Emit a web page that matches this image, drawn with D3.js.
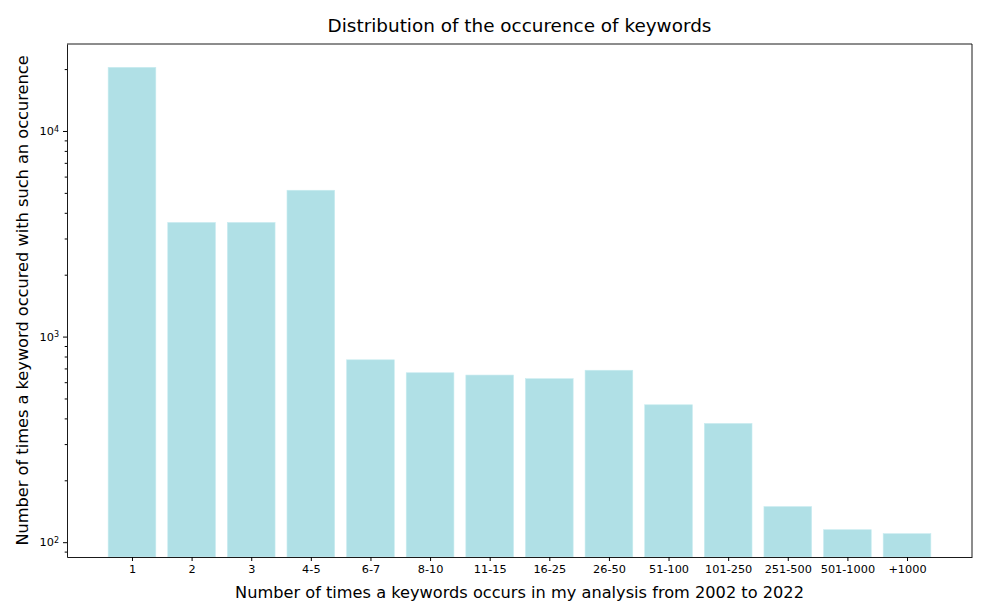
<!DOCTYPE html>
<meta charset="utf-8">
<style>
    body { margin: 0; background: #fff; }
    text { font-family: "DejaVu Sans", sans-serif; fill: #000; }
    .bar { fill: #b0e0e6; stroke: #c8ecf0; stroke-width: 0.6px; }
    .domain { stroke: #000; stroke-width: 0.9px; }
</style>
<svg width="988" height="608"></svg>
<script src="https://cdn.jsdelivr.net/npm/d3@7/dist/d3.min.js"></script>
<script>
    // bins of occurrences and how many keywords fall in each bin
    var categories = ['1', '2', '3', '4-5', '6-7', '8-10', '11-15', '16-25', '26-50',
        '51-100', '101-250', '251-500', '501-1000', '+1000'];
    var counts = [20400, 3590, 3590, 5150, 771, 667, 650, 624, 686, 466, 378, 149, 115, 110];
    var decadeTicks = [100, 1000, 10000];

    var svgElem = d3.select('svg');
    var margin = { left: 67, top: 44, right: 16, bottom: 51 };
    var width = +svgElem.attr('width') - margin.left - margin.right;
    var height = +svgElem.attr('height') - margin.top - margin.bottom;
    var g = svgElem.append('g')
        .attr('transform', `translate(${margin.left}, ${margin.top})`);

    // matplotlib-like limits: bars are 0.8 wide, 5% margins
    var lo = -0.4, hi = categories.length - 1 + 0.4;
    var pad = (hi - lo) * 0.05;
    var x = d3.scaleLinear().domain([lo - pad, hi + pad]).range([0, width]);

    var lmin = Math.log10(d3.min(counts)), lmax = Math.log10(d3.max(counts));
    var lpad = (lmax - lmin) * 0.05;
    var y = d3.scaleLog()
        .domain([Math.pow(10, lmin - lpad), Math.pow(10, lmax + lpad)])
        .range([height, 0]);

    // bars
    g.selectAll('.bar')
        .data(counts)
        .enter()
        .append('rect')
        .attr('class', 'bar')
        .attr('x', function (d, i) { return x(i - 0.4); })
        .attr('width', function () { return x(0.8) - x(0); })
        .attr('y', function (d) { return y(d); })
        .attr('height', function (d) { return height - y(d); });

    // x axis
    var xAxis = d3.axisBottom(x)
        .tickValues(d3.range(categories.length))
        .tickFormat(function (i) { return categories[i]; })
        .tickSizeInner(4)
        .tickSizeOuter(0)
        .tickPadding(4);
    var xg = g.append('g')
        .attr('transform', `translate(0, ${height})`)
        .call(xAxis);
    xg.selectAll('text').style('font-size', '11.3px');

    // y axis: minor ticks
    var minor = [];
    var dom = y.domain();
    for (var e = Math.floor(Math.log10(dom[0])); e <= Math.ceil(Math.log10(dom[1])); e++) {
        for (var m = 2; m <= 9; m++) {
            var v = m * Math.pow(10, e);
            if (v >= dom[0] && v <= dom[1]) minor.push(v);
        }
    }
    g.append('g')
        .call(d3.axisLeft(y).tickValues(minor).tickSize(2.3).tickFormat(''))
        .select('.domain').remove();

    // y axis: decades with superscript labels
    var yg = g.append('g')
        .call(d3.axisLeft(y).tickValues(decadeTicks).tickSizeInner(4).tickSizeOuter(0)
            .tickPadding(4).tickFormat(''));
    yg.selectAll('.tick').each(function (d) {
        var t = d3.select(this).append('text')
            .attr('x', -8)
            .attr('dy', '0.32em')
            .attr('text-anchor', 'end')
            .style('font-size', '11.3px');
        t.append('tspan').text('10');
        t.append('tspan')
            .attr('dy', '-0.45em')
            .style('font-size', '8px')
            .text(Math.round(Math.log10(d)));
    });

    // frame: top and right spines
    g.append('line').attr('class', 'domain')
        .attr('x1', 0).attr('x2', width).attr('y1', 0).attr('y2', 0);
    g.append('line').attr('class', 'domain')
        .attr('x1', width).attr('x2', width).attr('y1', 0).attr('y2', height);

    // titles
    svgElem.append('text')
        .attr('x', margin.left + width / 2)
        .attr('y', 32)
        .attr('text-anchor', 'middle')
        .style('font-size', '18.4px')
        .text('Distribution of the occurence of keywords');
    svgElem.append('text')
        .attr('x', margin.left + width / 2)
        .attr('y', 598)
        .attr('text-anchor', 'middle')
        .style('font-size', '16.2px')
        .text('Number of times a keywords occurs in my analysis from 2002 to 2022');
    svgElem.append('text')
        .attr('transform', `translate(28, ${margin.top + height / 2}) rotate(-90)`)
        .attr('text-anchor', 'middle')
        .style('font-size', '16.2px')
        .text('Number of times a keyword occured with such an occurence');
</script>
